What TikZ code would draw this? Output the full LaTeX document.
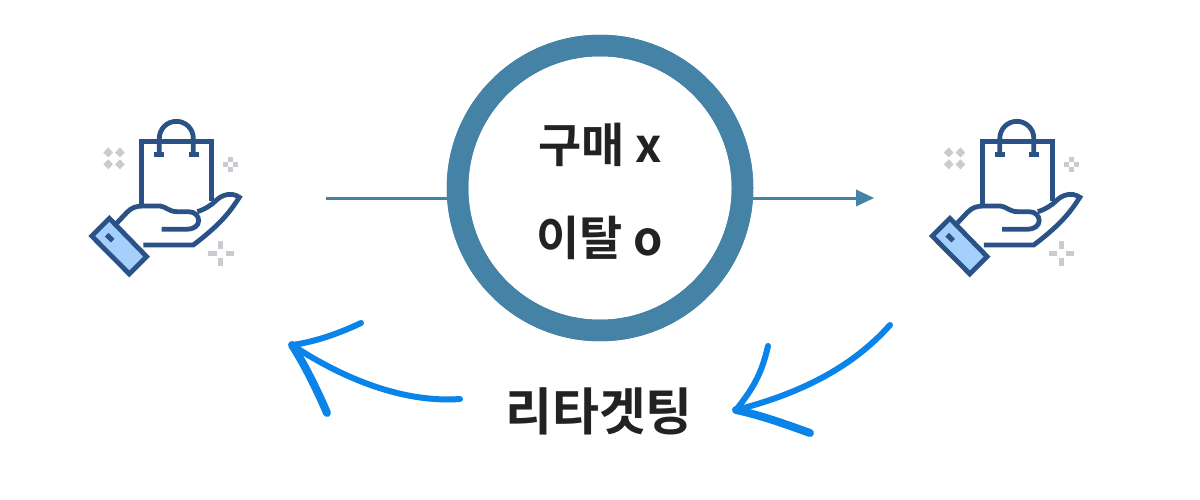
\documentclass[tikz,border=0pt]{standalone}
\usepackage{fontspec}
\newfontfamily\kr{Noto Sans CJK KR}[BoldFont={* Bold}]
\definecolor{ringc}{HTML}{4482A6}
\definecolor{bluec}{HTML}{0B84E9}
\definecolor{navy}{HTML}{2B5287}
\definecolor{cuffc}{HTML}{A5D0FB}
\definecolor{grayc}{HTML}{C8CBCF}
\definecolor{inkc}{HTML}{222222}
\tikzset{
  ringnode/.style={circle,draw=ringc,line width=21.5pt,minimum size=285pt,inner sep=0pt},
  link/.style={draw=ringc,line width=3pt},
  swoosh/.style={draw=bluec,line width=6pt,line cap=round,line join=round},
  swooshb/.style={draw=bluec,line width=8pt,line cap=round,line join=round},
  lbl/.style={font=\kr\bfseries\fontsize{47}{52}\selectfont,text=inkc,inner sep=0pt},
  lblbig/.style={font=\kr\bfseries\fontsize{51}{56}\selectfont,text=inkc,inner sep=0pt},
  iconline/.style={draw=navy,line width=4.8pt,line join=miter},
  shopicon/.pic={
    \begin{scope}[x=0.3333pt,y=-0.3333pt]
      \fill[grayc] (85,112)--(99,128)--(85,142)--(70,128)--cycle;
      \fill[grayc] (120,112)--(134,128)--(120,142)--(105,128)--cycle;
      \fill[grayc] (85,148)--(99,163)--(85,178)--(70,163)--cycle;
      \fill[grayc] (120,148)--(134,163)--(120,178)--(105,163)--cycle;
      \fill[grayc] (445,140) rectangle (460,155);
      \fill[grayc] (430,155) rectangle (445,170);
      \fill[grayc] (460,155) rectangle (475,170);
      \fill[grayc] (445,170) rectangle (460,185);
      \fill[grayc] (415,393) rectangle (430,416);
      \fill[grayc] (415,445) rectangle (430,468);
      \fill[grayc] (385,423) rectangle (410,437);
      \fill[grayc] (437,423) rectangle (461,437);
      \draw[iconline] (185,288) -- (185,95) -- (395,95) -- (395,272);
      \draw[iconline] (238,135) -- (238,85) arc[start angle=180,end angle=360,radius=51] -- (340,135);
      \draw[draw=navy,line width=5.5pt] (222,133) -- (253,133) (326,133) -- (357,133);
      \draw[iconline] (108,342) -- (140,308) .. controls (155,292) and (170,288) .. (190,288)
        -- (240,288) .. controls (258,290) and (265,304) .. (290,305) -- (325,305)
        .. controls (345,305) and (356,318) .. (356,332) .. controls (356,348) and (340,358) .. (320,358) -- (245,358);
      \draw[iconline] (352,305) .. controls (375,298) and (395,285) .. (410,270)
        .. controls (425,255) and (455,245) .. (478,262)
        .. controls (450,305) and (425,340) .. (340,405) -- (190,405);
      \draw[iconline,fill=cuffc] (88,325) -- (200,440) -- (148,492) -- (35,378) -- cycle;
      \draw[draw=navy,line width=5pt] (80,374) -- (98,392);
    \end{scope}
  }
}
\begin{document}
\begin{tikzpicture}[x=1pt,y=-1pt]
\useasboundingbox (0,0) rectangle (1200,500);
\fill[white] (0,0) rectangle (1200,500);
\coordinate (linestart) at (326,198);
\coordinate (lineend) at (856,198);
\coordinate (linetip) at (874,198);
\coordinate (ltip) at (292,345);
\coordinate (lshaft) at (460,399);
\coordinate (lup) at (361,323);
\coordinate (ldown) at (327,413);
\coordinate (rtip) at (736,410);
\coordinate (rshaft) at (890,325);
\coordinate (rup) at (768,346);
\coordinate (rdown) at (810,433);
\pic at (80,110) {shopicon};
\pic at (920.5,110) {shopicon};
\node[ringnode,fill=white] (ring) at (600,188) {};
\draw[link] (linestart) -- (linestart -| ring.west);
\draw[link] (ring.east |- lineend) -- (lineend);
\fill[ringc] (linetip) -- (856,189.5) -- (856,206.5) -- cycle;
\node[ringnode] (ringtop) at (600,188) {};
\node[lbl] (buy) at (600,145) {구매 x};
\node[lbl] (exit) at (600,238) {이탈 o};
\node[lblbig] (retarget) at (599,411) {리타겟팅};
\draw[swoosh] (lshaft) .. controls (405,403) and (345,380) .. (ltip);
\draw[swoosh] (lup) .. controls (340,333) and (315,342) .. (ltip);
\draw[swooshb] (ldown) .. controls (318,392) and (305,365) .. (ltip);
\draw[swoosh] (rshaft) .. controls (850,370) and (795,395) .. (rtip);
\draw[swoosh] (rup) .. controls (762,372) and (755,386) .. (rtip);
\draw[swooshb] (rdown) .. controls (785,424) and (760,415) .. (rtip);
\end{tikzpicture}
\end{document}
